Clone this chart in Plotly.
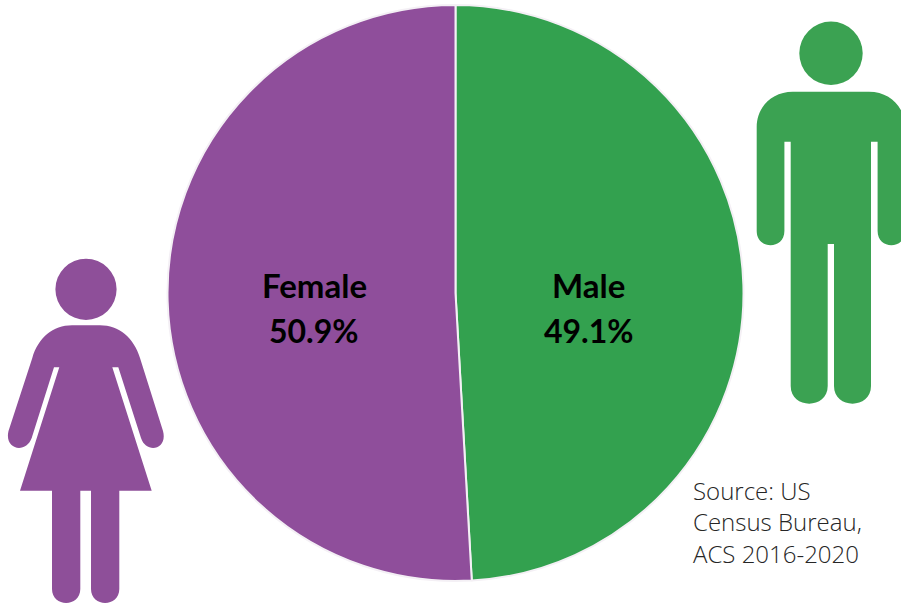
import plotly.graph_objects as go

# Data
labels = ["Male", "Female"]
values = [49.1, 50.9]
slice_colors = ["#33A14F", "#8F4E9B"]
source_lines = ["Source: US", "Census Bureau,", "ACS 2016-2020"]

W, H = 901, 606
CX, CY, R = 455.5, 293, 288
GREEN_ICON = "#3BA252"
PURPLE_ICON = "#8E4F99"

fig = go.Figure(go.Pie(
    labels=labels, values=values, sort=False, direction="clockwise", rotation=0,
    marker=dict(colors=slice_colors, line=dict(color="#F4F0F5", width=2)),
    textinfo="none", hoverinfo="label+percent", showlegend=False,
    domain=dict(x=[(CX - R) / W, (CX + R) / W], y=[1 - (CY + R) / H, 1 - (CY - R) / H]),
))

male_body = (
    "M 792.7 91.7 L 869 91.7 C 890 91.7 905 107 905 127 L 905 231 "
    "C 905 250 877.6 250 877.6 231 L 877.6 141.7 L 871 141.7 L 871 386 "
    "C 871 409.5 834 409.5 834 386 L 834 244 L 827.7 244 L 827.7 386 "
    "C 827.7 409.5 790.7 409.5 790.7 386 L 790.7 141.7 L 784.4 141.7 L 784.4 231 "
    "C 784.4 250 756.7 250 756.7 231 L 756.7 127 C 756.7 107 772 91.7 792.7 91.7 Z"
)
female_body = (
    "M 72 325.3 L 100 325.3 C 119 325.3 134 338 140 358 L 163 431 "
    "C 168 450 146 454 141 438 L 118.3 367.3 L 112.3 367.3 L 151.7 490.7 L 119.3 490.7 L 119.3 589 "
    "C 119.3 607.5 91 607.5 91 589 L 91 490.7 L 80.3 490.7 L 80.3 589 "
    "C 80.3 607.5 52 607.5 52 589 L 52 490.7 L 20 490.7 L 59.3 367.3 L 54 367.3 L 31.7 438 "
    "C 26 454 4 450 8.5 431 L 32.3 358 C 38 338 53 325.3 72 325.3 Z"
)


def circle(cx, cy, r, color):
    return dict(type="circle", xref="x", yref="y", x0=cx - r, x1=cx + r, y0=cy - r, y1=cy + r,
                fillcolor=color, line_width=0, layer="above")


shapes = [
    circle(831, 53.3, 31.7, GREEN_ICON),
    dict(type="path", xref="x", yref="y", path=male_body, fillcolor=GREEN_ICON, line_width=0, layer="above"),
    circle(86, 289.3, 30.6, PURPLE_ICON),
    dict(type="path", xref="x", yref="y", path=female_body, fillcolor=PURPLE_ICON, line_width=0, layer="above"),
]

annotations = []
label_pos = {"Male": 588.5, "Female": 314}
for lab, val in zip(labels, values):
    for text, y, size in ((lab, 284.5, 33), (f"{val}%", 330, 32)):
        annotations.append(dict(
            x=label_pos[lab], y=y, xref="x", yref="y", text=f"<b>{text}</b>", showarrow=False,
            font=dict(family="Lato", size=size, color="#000000"), xanchor="center", yanchor="middle",
        ))
for line, y in zip(source_lines, (490, 521.5, 553)):
    annotations.append(dict(
        x=693, y=y, xref="x", yref="y", text=line, showarrow=False,
        font=dict(family="Open Sans", size=24, color="#262626", weight=300), xanchor="left", yanchor="middle", xshift=-2,
    ))

fig.update_layout(
    width=W, height=H, autosize=False, margin=dict(l=0, r=0, t=0, b=0),
    paper_bgcolor="white", plot_bgcolor="rgba(0,0,0,0)",
    xaxis=dict(range=[0, W], visible=False, fixedrange=True),
    yaxis=dict(range=[H, 0], visible=False, fixedrange=True),
    shapes=shapes, annotations=annotations,
)
fig.write_html(
    "out.html", config=dict(displayModeBar=False),
    post_script="document.body.style.margin='0';document.body.style.overflow='hidden';",
)
